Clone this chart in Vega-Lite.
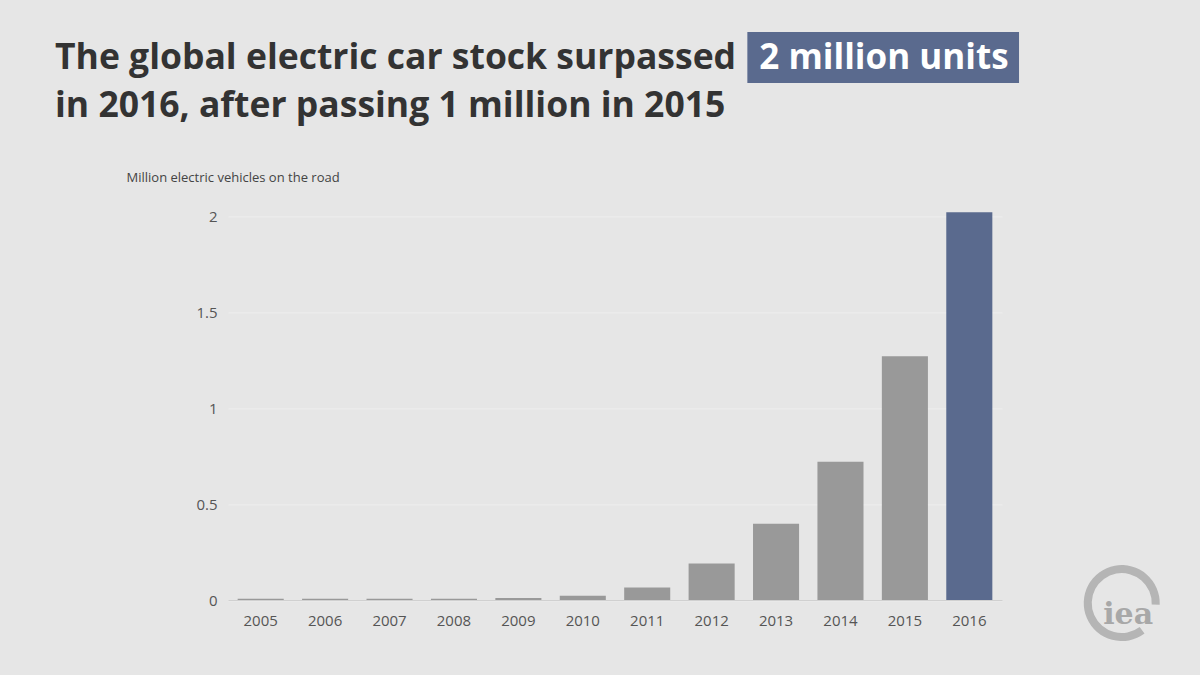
{
  "$schema": "https://vega.github.io/schema/vega-lite/v6.json",
  "width": 774,
  "height": 393.6,
  "autosize": "none",
  "padding": {"left": 228, "top": 206.4, "right": 198, "bottom": 75},
  "background": "#e6e6e6",
  "title": {
    "text": ["The global electric car stock surpassed", "in 2016, after passing 1 million in 2015"],
    "anchor": "start",
    "frame": "group",
    "dx": -173,
    "offset": 0,
    "dy": 120,
    "baseline": "alphabetic",
    "lineHeight": 48,
    "font": "Open Sans",
    "fontSize": 35.5,
    "fontWeight": "bold",
    "color": "#333333"
  },
  "datasets": {
    "stock": [
      {"year": "2005", "million": 0.006},
      {"year": "2006", "million": 0.006},
      {"year": "2007", "million": 0.006},
      {"year": "2008", "million": 0.006},
      {"year": "2009", "million": 0.011},
      {"year": "2010", "million": 0.022},
      {"year": "2011", "million": 0.065},
      {"year": "2012", "million": 0.19},
      {"year": "2013", "million": 0.397},
      {"year": "2014", "million": 0.72},
      {"year": "2015", "million": 1.27},
      {"year": "2016", "million": 2.02}
    ],
    "highlight": [{"label": "2 million units"}],
    "logo": [{"label": "iea"}]
  },
  "layer": [
    {
      "data": {"name": "stock"},
      "mark": {"type": "bar"},
      "encoding": {
        "x": {
          "field": "year",
          "type": "ordinal",
          "scale": {"paddingInner": 0.285, "paddingOuter": 0.15},
          "axis": {
            "title": null,
            "labelAngle": 0,
            "ticks": false,
            "domainColor": "#d0d0d0",
            "labelFont": "Open Sans",
            "labelFontSize": 15,
            "labelColor": "#555555",
            "labelPadding": 13
          }
        },
        "y": {
          "field": "million",
          "type": "quantitative",
          "scale": {"domain": [0, 2.05], "nice": false},
          "axis": {
            "title": "Million electric vehicles on the road",
            "values": [0, 0.5, 1, 1.5, 2],
            "format": "~g",
            "domain": false,
            "ticks": false,
            "gridColor": "#eeeeee",
            "labelFont": "Open Sans",
            "labelFontSize": 15,
            "labelColor": "#555555",
            "labelPadding": 11,
            "titleAngle": 0,
            "titleAlign": "left",
            "titleBaseline": "alphabetic",
            "titleX": -102,
            "titleY": -25,
            "titleFont": "Open Sans",
            "titleFontSize": 13,
            "titleFontWeight": "normal",
            "titleColor": "#444444"
          }
        },
        "color": {
          "condition": {"test": "datum.year === '2016'", "value": "#5a6a8e"},
          "value": "#999999"
        }
      }
    },
    {
      "data": {"name": "highlight"},
      "mark": {"type": "rect", "color": "#5a6a8e"},
      "encoding": {
        "x": {"datum": 0.671, "type": "quantitative", "scale": {"domain": [0, 1]}, "axis": null},
        "x2": {"datum": 1.022},
        "y": {"datum": 2.958, "type": "quantitative", "scale": {"domain": [0, 2.05], "nice": false}},
        "y2": {"datum": 2.693}
      }
    },
    {
      "data": {"name": "highlight"},
      "mark": {"type": "text", "color": "#ffffff", "font": "Open Sans", "fontSize": 35, "fontWeight": "bold", "align": "center", "baseline": "alphabetic"},
      "encoding": {
        "x": {"datum": 0.8475, "type": "quantitative", "scale": {"domain": [0, 1]}, "axis": null},
        "y": {"datum": 2.768, "type": "quantitative", "scale": {"domain": [0, 2.05], "nice": false}},
        "text": {"field": "label"}
      }
    },
    {
      "data": {"name": "logo"},
      "mark": {"type": "arc", "color": "#b5b5b5", "radius": 38, "radius2": 30, "theta": 2.5, "theta2": 7.9},
      "encoding": {
        "x": {"datum": 1.1547, "type": "quantitative", "scale": {"domain": [0, 1]}, "axis": null},
        "y": {"datum": -0.016, "type": "quantitative", "scale": {"domain": [0, 2.05], "nice": false}}
      }
    },
    {
      "data": {"name": "logo"},
      "mark": {"type": "text", "color": "#a8a8a8", "font": "DejaVu Serif", "fontSize": 30, "fontWeight": "bold", "align": "center", "baseline": "middle"},
      "encoding": {
        "x": {"datum": 1.163, "type": "quantitative", "scale": {"domain": [0, 1]}, "axis": null},
        "y": {"datum": -0.078, "type": "quantitative", "scale": {"domain": [0, 2.05], "nice": false}},
        "text": {"field": "label"}
      }
    }
  ],
  "resolve": {"scale": {"x": "independent"}},
  "config": {
    "view": {"stroke": null}
  }
}
